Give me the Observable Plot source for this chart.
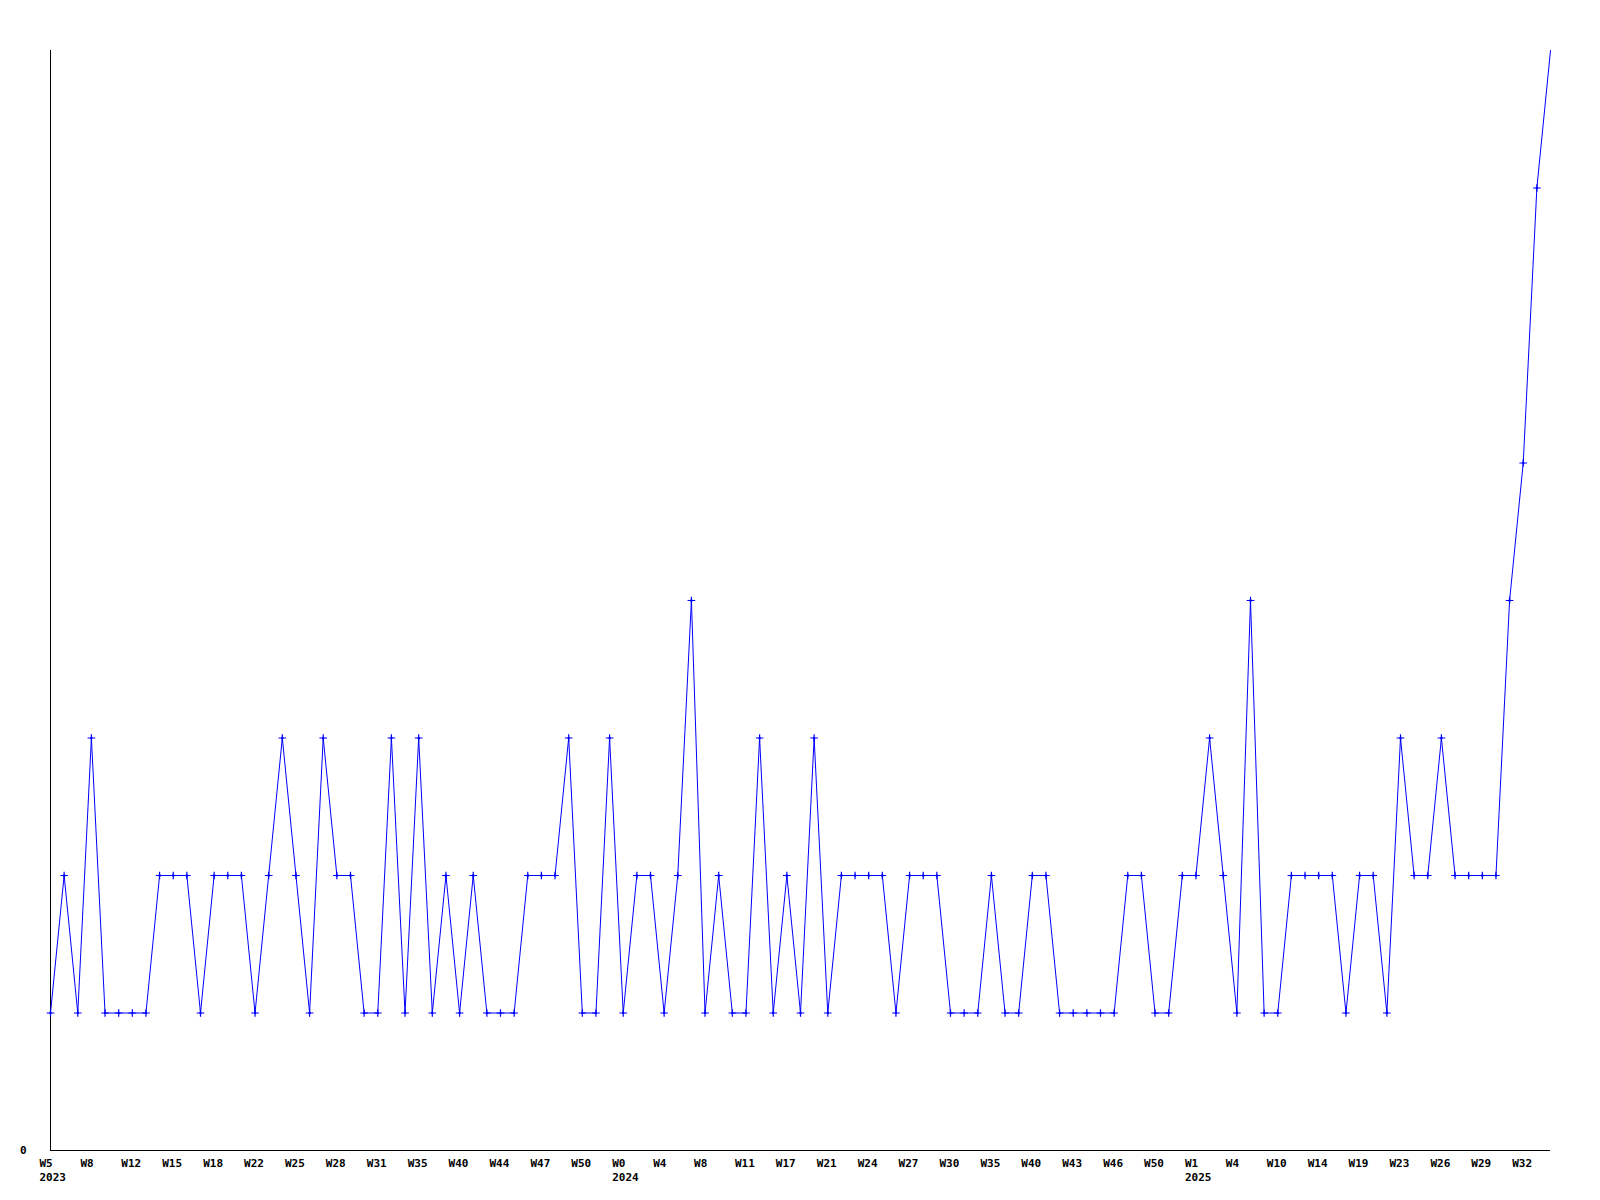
<!DOCTYPE html>
<html>
<head>
<meta charset="utf-8">
<script src="https://cdn.jsdelivr.net/npm/d3@7"></script>
<script src="https://cdn.jsdelivr.net/npm/@observablehq/plot@0.6"></script>
<style>
  html, body { margin: 0; padding: 0; background: #fff; }
  #chart svg { display: block; }
</style>
</head>
<body>
<div id="chart"></div>
<script>
// Weekly counts, one per data point (categorical x, in order)
const values = [
  1, 2, 1, 3, 1, 1, 1, 1, 2, 2,
  2, 1, 2, 2, 2, 1, 2, 3, 2, 1,
  3, 2, 2, 1, 1, 3, 1, 3, 1, 2,
  1, 2, 1, 1, 1, 2, 2, 2, 3, 1,
  1, 3, 1, 2, 2, 1, 2, 4, 1, 2,
  1, 1, 3, 1, 2, 1, 3, 1, 2, 2,
  2, 2, 1, 2, 2, 2, 1, 1, 1, 2,
  1, 1, 2, 2, 1, 1, 1, 1, 1, 2,
  2, 1, 1, 2, 2, 3, 2, 1, 4, 1,
  1, 2, 2, 2, 2, 1, 2, 2, 1, 3,
  2, 2, 3, 2, 2, 2, 2, 4, 5, 7,
  8
];

// Tick labels, shown on every third data point
const tickLabels = [
  "W5", "W8", "W12", "W15", "W18", "W22", "W25", "W28", "W31", "W35",
  "W40", "W44", "W47", "W50", "W0", "W4", "W8", "W11", "W17", "W21",
  "W24", "W27", "W30", "W35", "W40", "W43", "W46", "W50", "W1", "W4",
  "W10", "W14", "W19", "W23", "W26", "W29", "W32"
];
const tickEvery = 3;

// Year labels and the tick label (by tick number) they sit under
const yearLabels = ["2023", "2024", "2025"];
const yearTickNumbers = [0, 14, 28];

const yMax = 8;

const data = values.map((v, i) => ({i, v}));
const ticks = tickLabels.map((label, k) => ({i: k * tickEvery, label}));
const years = yearLabels.map((year, k) => ({i: yearTickNumbers[k] * tickEvery, year}));

const font = "'DejaVu Sans Mono', monospace";

const chart = Plot.plot({
  width: 1600,
  height: 1200,
  marginLeft: 50,
  marginRight: 50,
  marginTop: 50,
  marginBottom: 50,
  style: {fontFamily: font, background: "#fff"},
  x: {domain: [0, values.length - 1], axis: null},
  y: {domain: [0, yMax], axis: null},
  marks: [
    Plot.ruleX([0], {stroke: "#000", strokeWidth: 1}),
    Plot.ruleY([0], {stroke: "#000", strokeWidth: 1}),
    Plot.line(data, {x: "i", y: "v", stroke: "#0000ff", strokeWidth: 1}),
    Plot.dot(data.slice(0, -1), {x: "i", y: "v", symbol: "plus", r: 2.6, stroke: "#0000ff", strokeWidth: 1.2}),
    Plot.dot(data.slice(0, -1), {x: "i", y: "v", symbol: "square", r: 1.2, fill: "#0000ff"}),
    Plot.text(ticks, {x: "i", y: () => 0, text: "label", textAnchor: "start", lineAnchor: "top", dx: -11, dy: 9,
      fontSize: 11, fontWeight: "bold", fill: "#000", fontFamily: font}),
    Plot.text(years, {x: "i", y: () => 0, text: "year", textAnchor: "start", lineAnchor: "top", dx: -11, dy: 23,
      fontSize: 11, fontWeight: "bold", fill: "#000", fontFamily: font}),
    Plot.text([0], {x: () => 0, y: d => d, text: d => String(d), textAnchor: "end", dx: -24,
      fontSize: 11, fontWeight: "bold", fill: "#000", fontFamily: font})
  ]
});

document.getElementById("chart").appendChild(chart);
</script>
</body>
</html>
